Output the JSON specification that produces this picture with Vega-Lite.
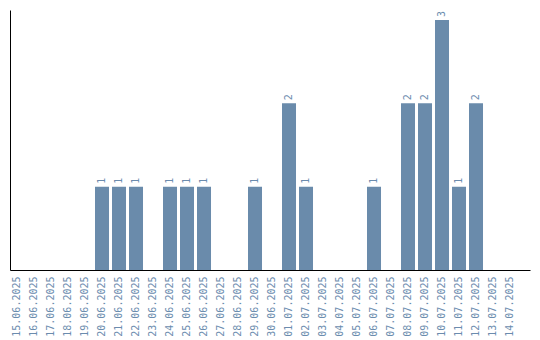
{
  "$schema": "https://vega.github.io/schema/vega-lite/v6.json",
  "width": 520,
  "height": 260,
  "autosize": {"type": "none"},
  "padding": {"left": 10, "top": 10, "right": 10, "bottom": 70},
  "background": "white",
  "config": {"view": {"stroke": null}},
  "data": {
    "values": [
      {"date": "15.06.2025", "count": 0},
      {"date": "16.06.2025", "count": 0},
      {"date": "17.06.2025", "count": 0},
      {"date": "18.06.2025", "count": 0},
      {"date": "19.06.2025", "count": 0},
      {"date": "20.06.2025", "count": 1},
      {"date": "21.06.2025", "count": 1},
      {"date": "22.06.2025", "count": 1},
      {"date": "23.06.2025", "count": 0},
      {"date": "24.06.2025", "count": 1},
      {"date": "25.06.2025", "count": 1},
      {"date": "26.06.2025", "count": 1},
      {"date": "27.06.2025", "count": 0},
      {"date": "28.06.2025", "count": 0},
      {"date": "29.06.2025", "count": 1},
      {"date": "30.06.2025", "count": 0},
      {"date": "01.07.2025", "count": 2},
      {"date": "02.07.2025", "count": 1},
      {"date": "03.07.2025", "count": 0},
      {"date": "04.07.2025", "count": 0},
      {"date": "05.07.2025", "count": 0},
      {"date": "06.07.2025", "count": 1},
      {"date": "07.07.2025", "count": 0},
      {"date": "08.07.2025", "count": 2},
      {"date": "09.07.2025", "count": 2},
      {"date": "10.07.2025", "count": 3},
      {"date": "11.07.2025", "count": 1},
      {"date": "12.07.2025", "count": 2},
      {"date": "13.07.2025", "count": 0},
      {"date": "14.07.2025", "count": 0}
    ]
  },
  "encoding": {
    "x": {
      "field": "date",
      "type": "ordinal",
      "sort": null,
      "scale": {"paddingInner": 0.176, "paddingOuter": 0.382, "align": 0},
      "axis": {
        "title": null,
        "ticks": false,
        "labelAngle": -90,
        "labelPadding": 6,
        "labelFont": "DejaVu Sans Mono",
        "labelFontSize": 10,
        "labelColor": "#6b8cae",
        "domainColor": "#000000",
        "domainWidth": 1,
        "grid": false
      }
    },
    "y": {
      "field": "count",
      "type": "quantitative",
      "scale": {"domain": [0, 3.12], "nice": false, "zero": true},
      "axis": {
        "title": null,
        "ticks": false,
        "labels": false,
        "grid": false,
        "domainColor": "#000000",
        "domainWidth": 1
      }
    }
  },
  "layer": [
    {"mark": {"type": "bar", "color": "#6a8bab"}},
    {
      "transform": [{"filter": "datum.count > 0"}],
      "mark": {
        "type": "text",
        "angle": 270,
        "align": "left",
        "baseline": "middle",
        "dx": 3,
        "font": "DejaVu Sans Mono",
        "fontSize": 10,
        "color": "#6b8cae"
      },
      "encoding": {"text": {"field": "count", "type": "quantitative"}}
    }
  ]
}
